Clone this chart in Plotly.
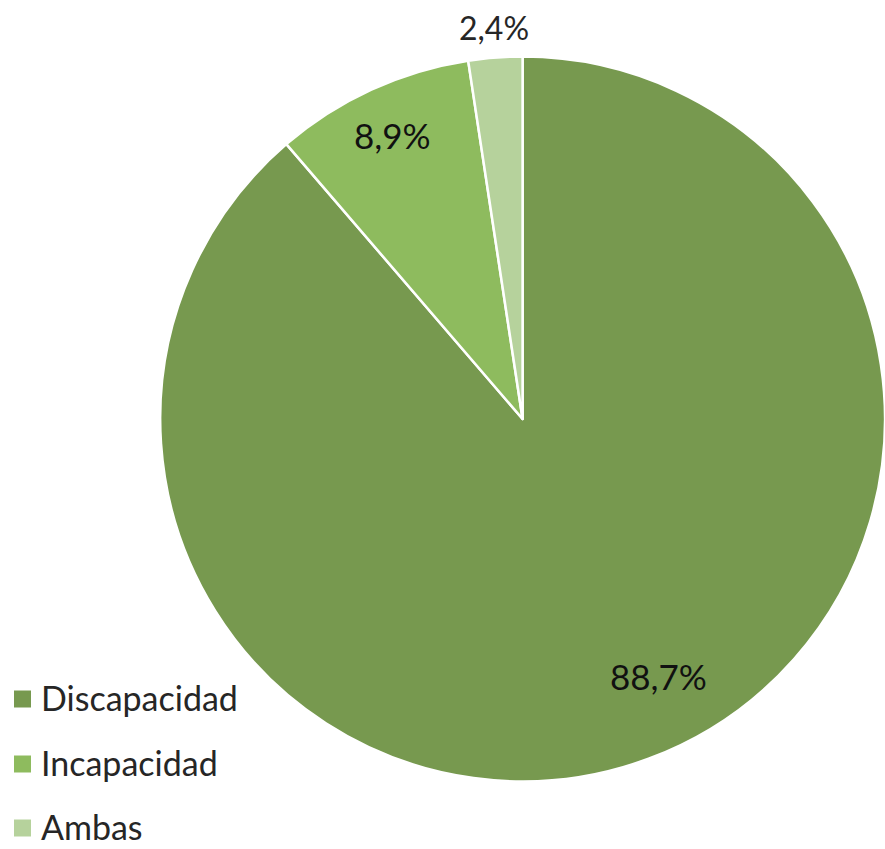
import plotly.graph_objects as go

# Distribution of cases by type of condition
categories = ["Discapacidad", "Incapacidad", "Ambas"]
values = [88.7, 8.9, 2.4]
colors = ["#77994F", "#8EBB5E", "#B6D29C"]
label_text = [f"{v:.1f}%".replace(".", ",") for v in values]

W, H = 885, 849


def px(x):
    return x / W


def py(y):
    # pixel y from the top -> paper y
    return 1 - y / H


fig = go.Figure()
fig.add_trace(go.Pie(
    labels=categories,
    values=values,
    textinfo="none",
    marker=dict(colors=colors, line=dict(color="white", width=2.5)),
    sort=False,
    direction="clockwise",
    rotation=0,
    showlegend=False,
    hoverinfo="label+percent",
    domain=dict(x=[0.181, 1.0], y=[0.078, 0.935]),
))

# Percentage labels (inside for the two larger slices, above the pie for the smallest)
label_pos = [(658, 676), (392, 135), (494, 27)]
label_size = [35, 35, 32]
label_color = ["#111111", "#111111", "#262626"]
for txt, (lx, ly), sz, c in zip(label_text, label_pos, label_size, label_color):
    fig.add_annotation(x=px(lx), y=py(ly), xref="paper", yref="paper",
                       text=txt, showarrow=False, xanchor="center", yanchor="middle",
                       font=dict(family="Lato", size=sz, color=c))

# Legend drawn as colored squares with labels at the lower left
legend_cy = [699, 764, 828]
for name, col, cy in zip(categories, colors, legend_cy):
    fig.add_shape(type="rect", xref="paper", yref="paper",
                  x0=px(14), x1=px(31), y0=py(cy + 8.5), y1=py(cy - 8.5),
                  fillcolor=col, line=dict(width=0))
    fig.add_annotation(x=px(39), y=py(cy - 2), xref="paper", yref="paper",
                       text=name, showarrow=False, xanchor="left", yanchor="middle",
                       font=dict(family="Lato", size=34, color="#262626"))

fig.update_layout(
    width=W, height=H,
    margin=dict(l=0, r=0, t=0, b=0),
    paper_bgcolor="white",
    plot_bgcolor="white",
)

fig.write_html("out.html")
